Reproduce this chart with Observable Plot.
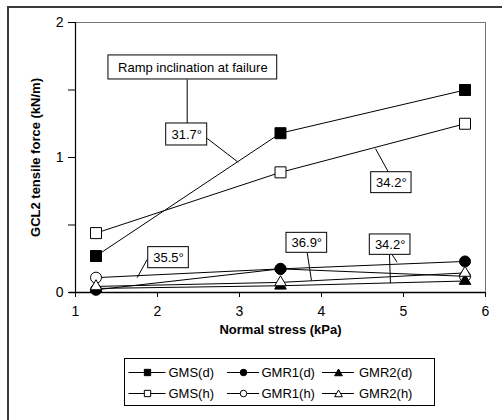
<!DOCTYPE html>
<html>
<head>
<meta charset="utf-8">
<script src="https://cdn.jsdelivr.net/npm/d3@7"></script>
<script src="https://cdn.jsdelivr.net/npm/@observablehq/plot@0.6"></script>
<style>
  html, body { margin: 0; padding: 0; background: #fff; }
  #wrap { position: relative; width: 502px; height: 420px; overflow: hidden; font-family: "Liberation Sans", Arial, sans-serif; }
  #chart { position: absolute; left: 0; top: 0; }
  #legend { position: absolute; left: 124px; top: 358px; width: 311px; height: 48px; box-sizing: border-box; border: 1px solid #000; background: #fff; }
  #frame { position: absolute; left: 7px; top: 6px; width: 600px; height: 600px; border-top: 2px solid #3a3a3a; border-left: 2px solid #3a3a3a; pointer-events: none; }
</style>
</head>
<body>
<div id="wrap">
  <div id="chart"></div>
  <div id="legend"></div>
  <div id="frame"></div>
</div>
<script>
// ---- data ----
const normalStress = [1.25, 3.5, 5.75];
const seriesNames = ["GMS(d)", "GMR1(d)", "GMR2(d)", "GMS(h)", "GMR1(h)", "GMR2(h)"];
const gmsD  = [0.27, 1.18, 1.50];
const gmr1D = [0.02, 0.175, 0.23];
const gmr2D = [0.03, 0.05, 0.085];
const gmsH  = [0.44, 0.89, 1.25];
const gmr1H = [0.11, 0.175, 0.12];
const gmr2H = [0.045, 0.075, 0.145];
const seriesValues = [gmsD, gmr1D, gmr2D, gmsH, gmr1H, gmr2H];
const seriesSymbols = ["square", "circle", "triangle", "square", "circle", "triangle"];
const seriesFilled = [true, true, true, false, false, false];
// order in which the markers are painted (later on top)
const markerOrder = ["GMR1(h)", "GMS(d)", "GMR1(d)", "GMR2(d)", "GMS(h)", "GMR2(h)"];

const xTicks = [1, 2, 3, 4, 5, 6];
const yTicks = [0, 0.5, 1, 1.5, 2];
const yTickLabels = ["0", "", "1", "", "2"];

// annotation boxes (data units)
const noteLabels = ["Ramp inclination at failure", "31.7°", "34.2°", "35.5°", "36.9°", "34.2°"];
const noteX1 = [1.402, 2.106, 4.606, 1.887, 3.573, 4.589];
const noteX2 = [3.460, 2.606, 5.098, 2.382, 4.069, 5.085];
const noteY1 = [1.578, 1.089, 0.736, 0.180, 0.294, 0.279];
const noteY2 = [1.756, 1.252, 0.891, 0.336, 0.442, 0.430];
// leader lines (data units)
const leadX1 = [2.362, 2.606, 4.817, 1.874, 3.826, 4.829, 4.862];
const leadY1 = [1.578, 1.141, 0.891, 0.244, 0.294, 0.279, 0.279];
const leadX2 = [2.362, 2.984, 4.659, 1.752, 3.878, 4.841, 4.923];
const leadY2 = [1.252, 0.965, 1.065, 0.110, 0.089, 0.069, 0.224];

// ---- build tables ----
const rows = [];
seriesNames.forEach((name, i) => {
  normalStress.forEach((x, j) => rows.push({series: name, x, y: seriesValues[i][j]}));
});
const notes = noteLabels.map((t, i) => ({t, x1: noteX1[i], x2: noteX2[i], y1: noteY1[i], y2: noteY2[i]}));
const leads = leadX1.map((v, i) => ({x1: v, y1: leadY1[i], x2: leadX2[i], y2: leadY2[i]}));

const symR = {square: 6.2, circle: 5.5, triangle: 4.3};

const marks = [
  Plot.ruleY([2], {stroke: "#777", strokeWidth: 1}),
  Plot.ruleX([6], {stroke: "#777", strokeWidth: 1}),
  Plot.axisY({ticks: yTicks, tickFormat: d => yTickLabels[yTicks.indexOf(d)], tickSize: 7, tickPadding: 5, fontSize: 14, label: null}),
  Plot.axisX({ticks: xTicks, tickFormat: d => String(d), tickSize: 5, tickPadding: 9, fontSize: 14, label: null}),
  Plot.line(rows, {x: "x", y: "y", z: "series", stroke: "#000", strokeWidth: 1})
];
markerOrder.forEach(name => {
  const i = seriesNames.indexOf(name);
  marks.push(Plot.dot(rows.filter(d => d.series === name), {
    x: "x", y: "y", symbol: seriesSymbols[i], r: symR[seriesSymbols[i]],
    fill: seriesFilled[i] ? "#000" : "#fff", stroke: "#000", strokeWidth: 1
  }));
});
marks.push(
  Plot.link(leads, {x1: "x1", y1: "y1", x2: "x2", y2: "y2", stroke: "#000", strokeWidth: 1}),
  Plot.rect(notes, {x1: "x1", x2: "x2", y1: "y1", y2: "y2", fill: "#fff", stroke: "#000", strokeWidth: 1}),
  Plot.text(notes, {x: d => (d.x1 + d.x2) / 2, y: d => (d.y1 + d.y2) / 2, text: "t", fontSize: 13, fill: "#000"}),
  Plot.ruleX([1], {stroke: "#000", strokeWidth: 1.2}),
  Plot.ruleY([0], {x1: 0.93, x2: 6, stroke: "#000", strokeWidth: 1.5}),
  Plot.text(["Normal stress (kPa)"], {frameAnchor: "bottom", dy: 41, fontWeight: "bold", fontSize: 13, fill: "#000"}),
  Plot.text(["GCL2 tensile force (kN/m)"], {frameAnchor: "left", textAnchor: "middle", dx: -40, rotate: -90, fontWeight: "bold", fontSize: 13, fill: "#000"})
);

const chart = Plot.plot({
  width: 502,
  height: 350,
  marginLeft: 75,
  marginRight: 17,
  marginTop: 22,
  marginBottom: 58,
  x: {domain: [1, 6]},
  y: {domain: [0, 2]},
  style: {fontFamily: "'Liberation Sans', Arial, sans-serif", fontSize: "14px", background: "transparent", color: "#000", overflow: "visible"},
  marks
});
document.getElementById("chart").appendChild(chart);

// ---- legend ----
const legW = 309, legH = 46;
const svg = d3.select("#legend").append("svg").attr("width", legW).attr("height", legH)
  .style("display", "block");
const colX = [3.5, 102, 197];     // line start
const colLen = [37, 32, 32];     // line length
const textGap = [3, 2.5, 5];
const rowY = [13.5, 34.5];
const legSym = {square: d3.symbolSquare, circle: d3.symbolCircle, triangle: d3.symbolTriangle};
const legSize = {square: 40, circle: 34, triangle: 26};
seriesNames.forEach((name, i) => {
  const c = i % 3, r = Math.floor(i / 3);
  const x0 = colX[c], len = colLen[c], y = rowY[r];
  svg.append("line").attr("x1", x0).attr("x2", x0 + len).attr("y1", y).attr("y2", y)
    .attr("stroke", "#000").attr("stroke-width", 1);
  const s = seriesSymbols[i];
  svg.append("path").attr("d", d3.symbol(legSym[s], legSize[s])())
    .attr("transform", `translate(${x0 + len / 2 + 0.5},${y + (s === "triangle" ? 1 : 0)})`)
    .attr("fill", seriesFilled[i] ? "#000" : "#fff").attr("stroke", "#000").attr("stroke-width", 1);
  svg.append("text").attr("x", x0 + len + textGap[c]).attr("y", y).attr("dy", "0.35em")
    .attr("font-size", 13).attr("font-family", "'Liberation Sans', Arial, sans-serif")
    .attr("fill", "#000").text(name);
});
</script>
</body>
</html>
